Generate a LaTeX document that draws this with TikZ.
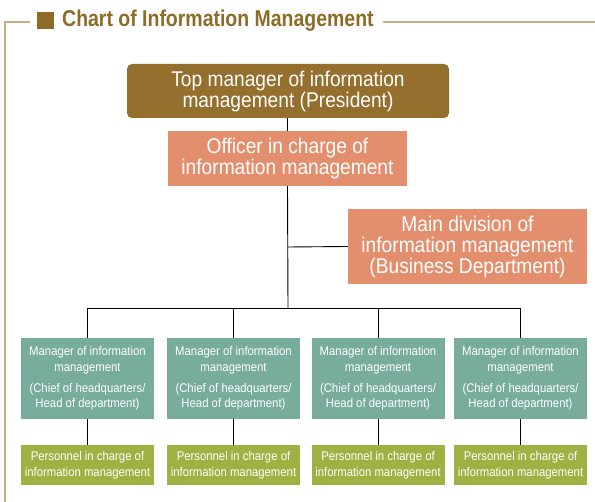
\documentclass[tikz,border=0pt]{standalone}
\usepackage{fontspec}
\setmainfont{Liberation Sans}[FakeStretch=0.9]
\newfontfamily\titlefont{Liberation Sans}[FakeStretch=0.85]
\definecolor{brownT}{HTML}{8F6B28}
\definecolor{brownBox}{HTML}{946F2E}
\definecolor{frameC}{HTML}{C7AE82}
\definecolor{salmon}{HTML}{E38F6E}
\definecolor{teal}{HTML}{78AC9C}
\definecolor{olive}{HTML}{9DB242}
\begin{document}
\begin{tikzpicture}[x=1pt,y=-1pt,
  bigbox/.style={inner sep=0pt, text=white, align=center,
    font=\fontsize{21.3}{21}\selectfont},
  smallbox/.style={inner sep=0pt, text=white, align=center,
    font=\fontsize{12.6}{15.8}\selectfont, minimum width=133pt},
  conn/.style={draw=black, line width=0.9pt}]
\useasboundingbox (0,0) rectangle (595,502);
% title frame
\draw[frameC, line width=1.2pt] (30,22) -- (5,22) -- (5,502);
\draw[frameC, line width=1.2pt] (383,22) -- (595,22);
\fill[brownT] (37,12) rectangle (54,29);
\node[anchor=west, inner sep=0pt, text=brownT, font=\titlefont\bfseries\fontsize{22.9}{24}\selectfont] (title) at (62,20.5) {Chart of Information Management};
% top boxes
\node[bigbox, fill=brownBox, rounded corners=5pt, minimum width=322pt, minimum height=54pt] (top) at (288,91) {Top manager of information\\management (President)};
\node[bigbox, fill=salmon, minimum width=239pt, minimum height=55pt] (off) at (287.5,158.5) {Officer in charge of\\information management};
\node[bigbox, fill=salmon, minimum width=239pt, minimum height=75pt] (main) at (467.5,246.5) {Main division of\\information management\\(Business Department)};
% managers
\foreach \i/\x in {1/87.5,2/233.5,3/378,4/520.5}{
  \node[smallbox, fill=teal, minimum height=81pt] (m\i) at (\x,378.5) {Manager of information\\management\\[5pt](Chief of headquarters/\\Head of department)};
  \node[smallbox, fill=olive, minimum height=40pt] (p\i) at (\x,465) {Personnel in charge of\\information management};
}
% connectors
\coordinate (bus) at (288,308);
\coordinate (j) at (288,247);
\coordinate (b1) at (87.5,308);
\coordinate (b4) at (520.5,308);
\draw[conn] (top.south -| off.north) -- (off.north);
\draw[conn] (off.south) -- (bus);
\draw[conn] (j) -- (main.west);
\draw[conn] (b1) -- (b4);
\foreach \i in {1,2,3,4}{
  \draw[conn] (m\i.north |- bus) -- (m\i.north);
  \draw[conn] (m\i.south) -- (p\i.north);
}
\end{tikzpicture}
\end{document}
